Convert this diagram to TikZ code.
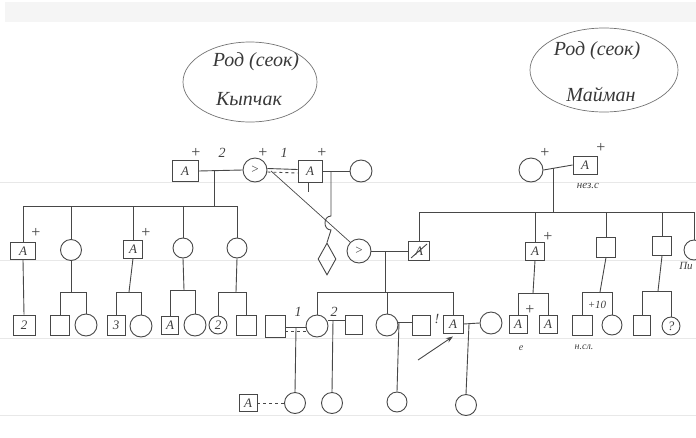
\documentclass[tikz,border=0pt]{standalone}
\usepackage{fontspec}
\setmainfont{Liberation Serif}
\usetikzlibrary{shapes.geometric,arrows.meta}
\begin{document}
\begin{tikzpicture}[x=1pt,y=-1pt,
  pen/.style={draw=black!72,line width=0.9pt},
  sq/.style={pen,rectangle,inner sep=0pt,minimum width=19pt,minimum height=19pt,
    font=\itshape\fontsize{13}{13}\selectfont,text=black!75},
  fem/.style={pen,circle,inner sep=0pt,minimum size=22pt,
    font=\itshape\fontsize{13}{13}\selectfont,text=black!75},
  lbl/.style={inner sep=0pt,font=\itshape\fontsize{14}{14}\selectfont,text=black!75},
  plus/.style={inner sep=0pt,font=\fontsize{16}{16}\selectfont,text=black!75},
  small/.style={inner sep=0pt,font=\itshape\fontsize{10}{10}\selectfont,text=black!75},
  big/.style={inner sep=0pt,font=\itshape\fontsize{20}{20}\selectfont,text=black!78},
  oval/.style={draw=black!55,line width=0.7pt,ellipse,inner sep=0pt},
  rule/.style={draw=black!9,line width=0.6pt}]
\useasboundingbox (0,0) rectangle (696,437);
% paper
\fill[black!4] (5,2) rectangle (696,22);
\draw[rule] (0,182) -- (696,182);
\draw[rule] (0,260) -- (696,260);
\draw[rule] (0,338) -- (696,338);
\draw[rule] (0,415) -- (696,415);

% clan ovals
\node[oval,minimum width=134pt,minimum height=80pt] (e1) at (250,82) {};
\node[big] (e1a) at (256,62) {Род (сеок)};
\node[big] (e1b) at (249,99) {Кыпчак};
\node[oval,minimum width=148pt,minimum height=84pt] (e2) at (604,70) {};
\node[big] (e2a) at (597,51) {Род (сеок)};
\node[big] (e2b) at (601,94) {Майман};

% ===== Kypchak top generation =====
\node[sq,minimum width=26pt,minimum height=21pt] (k1) at (185,171) {A};
\node[fem,minimum size=24pt] (k2) at (255,170) {>};
\node[sq,minimum width=24pt,minimum height=22pt] (k3) at (310,171) {A};
\node[fem] (k4) at (361,171) {};
\node[plus] (pk1) at (196,153) {+};
\node[plus] (pk2) at (263,153) {+};
\node[plus] (pk3) at (322,153) {+};
\node[lbl] (n2a) at (222,153) {2};
\node[lbl] (n1a) at (284,153) {1};

\draw[pen] (k1.east) -- (k2.west);
\draw[pen] ([yshift=1.5pt]k2.east) -- ([yshift=1.5pt]k3.west);
\draw[pen,dashed] ([yshift=-2pt]k2.east) -- ([yshift=-2pt]k3.west);
\draw[pen] (k3.east) -- (k4.west);
\coordinate (k3t) at (308,192);
\draw[pen] ([xshift=-2pt]k3.south) -- (k3t);

% children of k1 + k2
\node[sq,minimum width=25pt,minimum height=17pt] (c1) at (23,251) {A};
\node[fem,minimum size=21pt] (c2) at (71,250) {};
\node[sq,minimum width=19pt,minimum height=18pt] (c3) at (133,249) {A};
\node[fem,minimum size=20pt] (c4) at (183,248) {};
\node[fem,minimum size=20pt] (c5) at (237,248) {};
\node[plus] (pc1) at (36,233) {+};
\node[plus] (pc3) at (146,233) {+};

\coordinate (jk) at (214,171);
\coordinate (jk2) at (214,206);
\draw[pen] (jk) -- (jk2);
\draw[pen] (c1.north |- jk2) -- (c5.north |- jk2);
\foreach \n in {c1,c2,c3,c4,c5} \draw[pen] (\n.north |- jk2) -- (\n.north);

% grandchildren (Kypchak)
\node[sq,minimum width=22pt,minimum height=20pt] (b1) at (24,325) {2};
\node[sq,minimum height=20pt] (b2) at (60,325) {};
\node[fem] (b3) at (86,325) {};
\node[sq,minimum width=18pt,minimum height=20pt] (b4) at (116,325) {3};
\node[fem] (b5) at (141,326) {};
\node[sq,minimum width=17pt,minimum height=18pt] (b6) at (170,325) {A};
\node[fem] (b7) at (195,325) {};
\node[fem,minimum size=18pt] (b8) at (218,325) {2};
\node[sq,minimum width=20pt,minimum height=20pt] (b9) at (246,325) {};

\draw[pen] (c1.south) -- (b1.north);
\coordinate (j2) at (71,292);
\draw[pen] (c2.south) -- (j2);
\draw[pen] (b2.north |- j2) -- (b3.north |- j2);
\draw[pen] (b2.north |- j2) -- (b2.north);
\draw[pen] (b3.north |- j2) -- (b3.north);
\coordinate (j3) at (129,292);
\draw[pen] (c3.south) -- (j3);
\draw[pen] (b4.north |- j3) -- (b5.north |- j3);
\draw[pen] (b4.north |- j3) -- (b4.north);
\draw[pen] (b5.north |- j3) -- (b5.north);
\coordinate (j4) at (184,290);
\draw[pen] (c4.south) -- (j4);
\draw[pen] (b6.north |- j4) -- (b7.north |- j4);
\draw[pen] (b6.north |- j4) -- (b6.north);
\draw[pen] (b7.north |- j4) -- (b7.north);
\coordinate (j5) at (236,292);
\draw[pen] (c5.south) -- (j5);
\draw[pen] (b8.north |- j5) -- (b9.north |- j5);
\draw[pen] (b8.north |- j5) -- (b8.north);
\draw[pen] (b9.north |- j5) -- (b9.north);

% ===== k3 + k4 line, diamond, diagonal to ">" =====
\node[pen,diamond,inner sep=0pt,minimum width=18pt,minimum height=32pt] (d1) at (327,259) {};
\node[fem,minimum size=24pt] (gt) at (359,251) {>};
\coordinate (dg) at (271,171);
\draw[pen,line width=0.7pt] (dg) -- (gt.north west);
\coordinate (jm) at (331,172);
\coordinate (h1) at (331,216);
\coordinate (h2) at (331,230);
\draw[pen] (jm) -- (h1) .. controls (323,216) and (323,230) .. (h2) -- (d1.north);

% ===== Maiman =====
\node[fem,minimum size=24pt] (mf) at (531,170) {};
\node[sq,minimum width=24pt,minimum height=18pt] (mm) at (585,165) {A};
\node[plus] (pmf) at (545,153) {+};
\node[plus] (pmm) at (601,148) {+};
\node[small,font=\itshape\fontsize{11}{11}\selectfont] (nez) at (588,186) {нез.с};
\draw[pen] (mf.east) -- (mm.west);
\coordinate (jmm) at (553,168);
\coordinate (jmm2) at (553,212);
\draw[pen] (jmm) -- (jmm2);

\node[sq,minimum width=21pt,minimum height=19pt] (m1) at (419,251) {A};
\draw[pen] ([shift={(3,-3)}]m1.south west) -- ([shift={(-3,3)}]m1.north east);
\node[sq,minimum width=19pt,minimum height=18pt] (m2) at (535,251) {A};
\node[sq,minimum width=19pt,minimum height=20pt] (m3) at (606,247) {};
\node[sq,minimum width=19pt,minimum height=19pt] (m4) at (662,246) {};
\node[fem,minimum size=20pt] (m5) at (694,250) {};
\node[plus] (pm2) at (548,237) {+};
\node[small,font=\itshape\fontsize{11}{11}\selectfont] (pi) at (686,266) {Пи};

\draw[pen] (m1.north |- jmm2) -- (m5.north |- jmm2);
\foreach \n in {m1,m2,m3,m4,m5} \draw[pen] (\n.north |- jmm2) -- (\n.north);

% gt + m1 children
\draw[pen] (gt.east) -- (m1.west);
\coordinate (jg) at (385,252);
\coordinate (jg2) at (385,292);
\draw[pen] (jg) -- (jg2);

\node[sq,minimum width=20pt,minimum height=22pt] (s1) at (275,326) {};
\node[fem] (ch1) at (317,326) {};
\node[sq,minimum width=17pt,minimum height=19pt] (s2) at (354,325) {};
\node[fem] (ch2) at (387,325) {};
\node[sq,minimum width=18pt,minimum height=20pt] (s3) at (421,325) {};
\node[sq,minimum width=20pt,minimum height=18pt] (ch3) at (453,324) {A};
\node[fem] (s4) at (491,323) {};
\node[lbl] (n1b) at (298,312) {1};
\node[lbl] (n2b) at (334,312) {2};
\node[lbl] (excl) at (437,319) {!};

\draw[pen] (ch1.north |- jg2) -- (ch3.north |- jg2);
\foreach \n in {ch1,ch2,ch3} \draw[pen] (\n.north |- jg2) -- (\n.north);

\draw[pen] ([yshift=-1pt]s1.east) -- ([yshift=-1pt]ch1.west);
\draw[pen,dashed] ([yshift=-5pt]s1.east) -- ([yshift=-5pt]ch1.west);
\draw[pen] ([yshift=6pt]ch1.east) -- ([yshift=5pt]s2.west);
\draw[pen] ([yshift=3pt]ch2.east) -- ([yshift=3pt]s3.west);
\draw[pen] (ch3.east) -- (s4.west);

% arrow to ch3
\coordinate (arS) at (418,360);
\draw[pen,-{Stealth[length=7pt,width=5pt]}] (arS) -- ([yshift=-3pt]ch3.south);

% great-grandchildren
\node[fem,minimum size=21pt] (gc1) at (295,403) {};
\node[fem,minimum size=21pt] (gc2) at (332,403) {};
\node[fem,minimum size=20pt] (gc3) at (397,402) {};
\node[fem,minimum size=21pt] (gc4) at (466,405) {};
\node[sq,minimum width=18pt,minimum height=17pt] (gb) at (248,403) {A};

\coordinate (q1) at (296,328);
\draw[pen] (q1) -- (gc1.north);
\coordinate (q2) at (333,320);
\draw[pen] (q2) -- (gc2.north);
\coordinate (q3) at (399,322);
\draw[pen] (q3) -- (gc3.north);
\coordinate (q4) at (469,324);
\draw[pen] (q4) -- (gc4.north);
\draw[pen,dashed] (gb.east) -- (gc1.west);

% Maiman grandchildren
\node[sq,minimum width=18pt,minimum height=18pt] (g1) at (518,324) {A};
\node[sq,minimum width=18pt,minimum height=18pt] (g2) at (548,324) {A};
\node[sq,minimum width=20pt,minimum height=20pt] (g3) at (582,325) {};
\node[fem,minimum size=20pt] (g4) at (612,325) {};
\node[sq,minimum width=17pt,minimum height=20pt] (g5) at (642,325) {};
\node[fem,minimum size=18pt] (g6) at (671,326) {?};
\node[plus] (pg1) at (530,310) {+};
\node[small] (eg1) at (521,348) {e};
\node[small,font=\itshape\fontsize{11}{11}\selectfont] (p10) at (597,305) {+10};
\node[small] (nsl) at (584,347) {н.сл.};

\coordinate (jq1) at (533,293);
\draw[pen] (m2.south) -- (jq1);
\draw[pen] (g1.north |- jq1) -- (g2.north |- jq1);
\draw[pen] (g1.north |- jq1) -- (g1.north);
\draw[pen] (g2.north |- jq1) -- (g2.north);
\coordinate (jq2) at (600,292);
\draw[pen] (m3.south) -- (jq2);
\draw[pen] (g3.north |- jq2) -- (g4.north |- jq2);
\draw[pen] (g3.north |- jq2) -- (g3.north);
\draw[pen] (g4.north |- jq2) -- (g4.north);
\coordinate (jq3) at (658,291);
\draw[pen] (m4.south) -- (jq3);
\draw[pen] (g5.north |- jq3) -- (g6.north |- jq3);
\draw[pen] (g5.north |- jq3) -- (g5.north);
\draw[pen] (g6.north |- jq3) -- (g6.north);
\end{tikzpicture}
\end{document}
